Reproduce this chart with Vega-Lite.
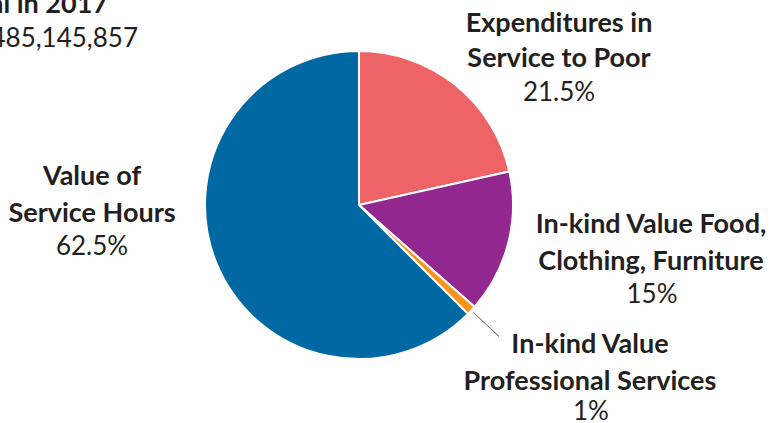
{
  "$schema": "https://vega.github.io/schema/vega-lite/v6.json",
  "autosize": {"type": "none"},
  "padding": {"left": 0, "top": 0, "right": 52, "bottom": 13},
  "width": 718,
  "height": 410,
  "background": "white",
  "config": {
    "view": {"stroke": null},
    "text": {"font": "Lato", "fontSize": 26, "color": "#231F20"}
  },
  "layer": [
    {
      "data": {
        "values": [
          {"category": "Expenditures in Service to Poor", "label": "Expenditures in\nService to Poor", "share": 0.215},
          {"category": "In-kind Value Food, Clothing, Furniture", "label": "In-kind Value Food,\nClothing, Furniture", "share": 0.15},
          {"category": "In-kind Value Professional Services", "label": "In-kind Value\nProfessional Services", "share": 0.01},
          {"category": "Value of Service Hours", "label": "Value of\nService Hours", "share": 0.625}
        ]
      },
      "encoding": {
        "theta": {"field": "share", "type": "quantitative", "stack": true},
        "order": {"field": "category", "type": "ordinal", "sort": "ascending"},
        "detail": {"field": "category", "type": "nominal"}
      },
      "layer": [
        {
          "mark": {"type": "arc", "outerRadius": 154, "stroke": "white", "strokeWidth": 2},
          "encoding": {
            "color": {
              "field": "category",
              "type": "nominal",
              "scale": {
                "domain": ["Expenditures in Service to Poor", "In-kind Value Food, Clothing, Furniture", "In-kind Value Professional Services", "Value of Service Hours"],
                "range": ["#EE6366", "#92278F", "#F7941D", "#0069A3"]
              },
              "legend": null
            }
          }
        },
        {
          "mark": {"type": "arc", "outerRadius": 192, "innerRadius": 157, "padAngle": 0.2, "filled": false, "stroke": "#7F7F7F", "strokeWidth": 1},
          "encoding": {
            "strokeOpacity": {"condition": {"test": "datum.category === 'In-kind Value Professional Services'", "value": 1}, "value": 0}
          }
        },
        {
          "mark": {"type": "text", "radius": 175, "dx": 90.6, "dy": -44, "fontWeight": "bold", "fontSize": 27, "lineBreak": "\n", "lineHeight": 35, "align": "center", "baseline": "middle"},
          "encoding": {
            "text": {"field": "label", "type": "nominal"},
            "opacity": {"condition": {"test": "datum.category === 'Expenditures in Service to Poor'", "value": 1}, "value": 0}
          }
        },
        {
          "mark": {"type": "text", "radius": 175, "dx": 90.6, "dy": 24.6, "align": "center", "baseline": "middle"},
          "encoding": {
            "text": {"field": "share", "type": "quantitative", "format": "~%"},
            "opacity": {"condition": {"test": "datum.category === 'Expenditures in Service to Poor'", "value": 1}, "value": 0}
          }
        },
        {
          "mark": {"type": "text", "radius": 175, "dx": 122.5, "dy": -24, "fontWeight": "bold", "fontSize": 27, "lineBreak": "\n", "lineHeight": 37, "align": "center", "baseline": "middle"},
          "encoding": {
            "text": {"field": "label", "type": "nominal"},
            "opacity": {"condition": {"test": "datum.category === 'In-kind Value Food, Clothing, Furniture'", "value": 1}, "value": 0}
          }
        },
        {
          "mark": {"type": "text", "radius": 175, "dx": 123.5, "dy": 46.5, "align": "center", "baseline": "middle"},
          "encoding": {
            "text": {"field": "share", "type": "quantitative", "format": "~%"},
            "opacity": {"condition": {"test": "datum.category === 'In-kind Value Food, Clothing, Furniture'", "value": 1}, "value": 0}
          }
        },
        {
          "mark": {"type": "text", "radius": 175, "dx": 103.4, "dy": 20, "fontWeight": "bold", "fontSize": 27, "lineBreak": "\n", "lineHeight": 37, "align": "center", "baseline": "middle"},
          "encoding": {
            "text": {"field": "label", "type": "nominal"},
            "opacity": {"condition": {"test": "datum.category === 'In-kind Value Professional Services'", "value": 1}, "value": 0}
          }
        },
        {
          "mark": {"type": "text", "radius": 175, "dx": 104.4, "dy": 87.2, "align": "center", "baseline": "middle"},
          "encoding": {
            "text": {"field": "share", "type": "quantitative", "format": "~%"},
            "opacity": {"condition": {"test": "datum.category === 'In-kind Value Professional Services'", "value": 1}, "value": 0}
          }
        },
        {
          "mark": {"type": "text", "radius": 175, "dx": -105.3, "dy": -95.4, "fontWeight": "bold", "fontSize": 27, "lineBreak": "\n", "lineHeight": 37, "align": "center", "baseline": "middle"},
          "encoding": {
            "text": {"field": "label", "type": "nominal"},
            "opacity": {"condition": {"test": "datum.category === 'Value of Service Hours'", "value": 1}, "value": 0}
          }
        },
        {
          "mark": {"type": "text", "radius": 175, "dx": -105.3, "dy": -25, "align": "center", "baseline": "middle"},
          "encoding": {
            "text": {"field": "share", "type": "quantitative", "format": "~%"},
            "opacity": {"condition": {"test": "datum.category === 'Value of Service Hours'", "value": 1}, "value": 0}
          }
        }
      ]
    },
    {
      "data": {"values": [{"heading": "Total in 2017", "total": "$485,145,857"}]},
      "layer": [
        {
          "mark": {"type": "text", "align": "right", "baseline": "alphabetic", "dx": -251, "dy": -192, "fontWeight": "bold", "fontSize": 27},
          "encoding": {"text": {"field": "heading", "type": "nominal"}}
        },
        {
          "mark": {"type": "text", "align": "right", "baseline": "alphabetic", "dx": -221, "dy": -158},
          "encoding": {"text": {"field": "total", "type": "nominal"}}
        }
      ]
    }
  ]
}
